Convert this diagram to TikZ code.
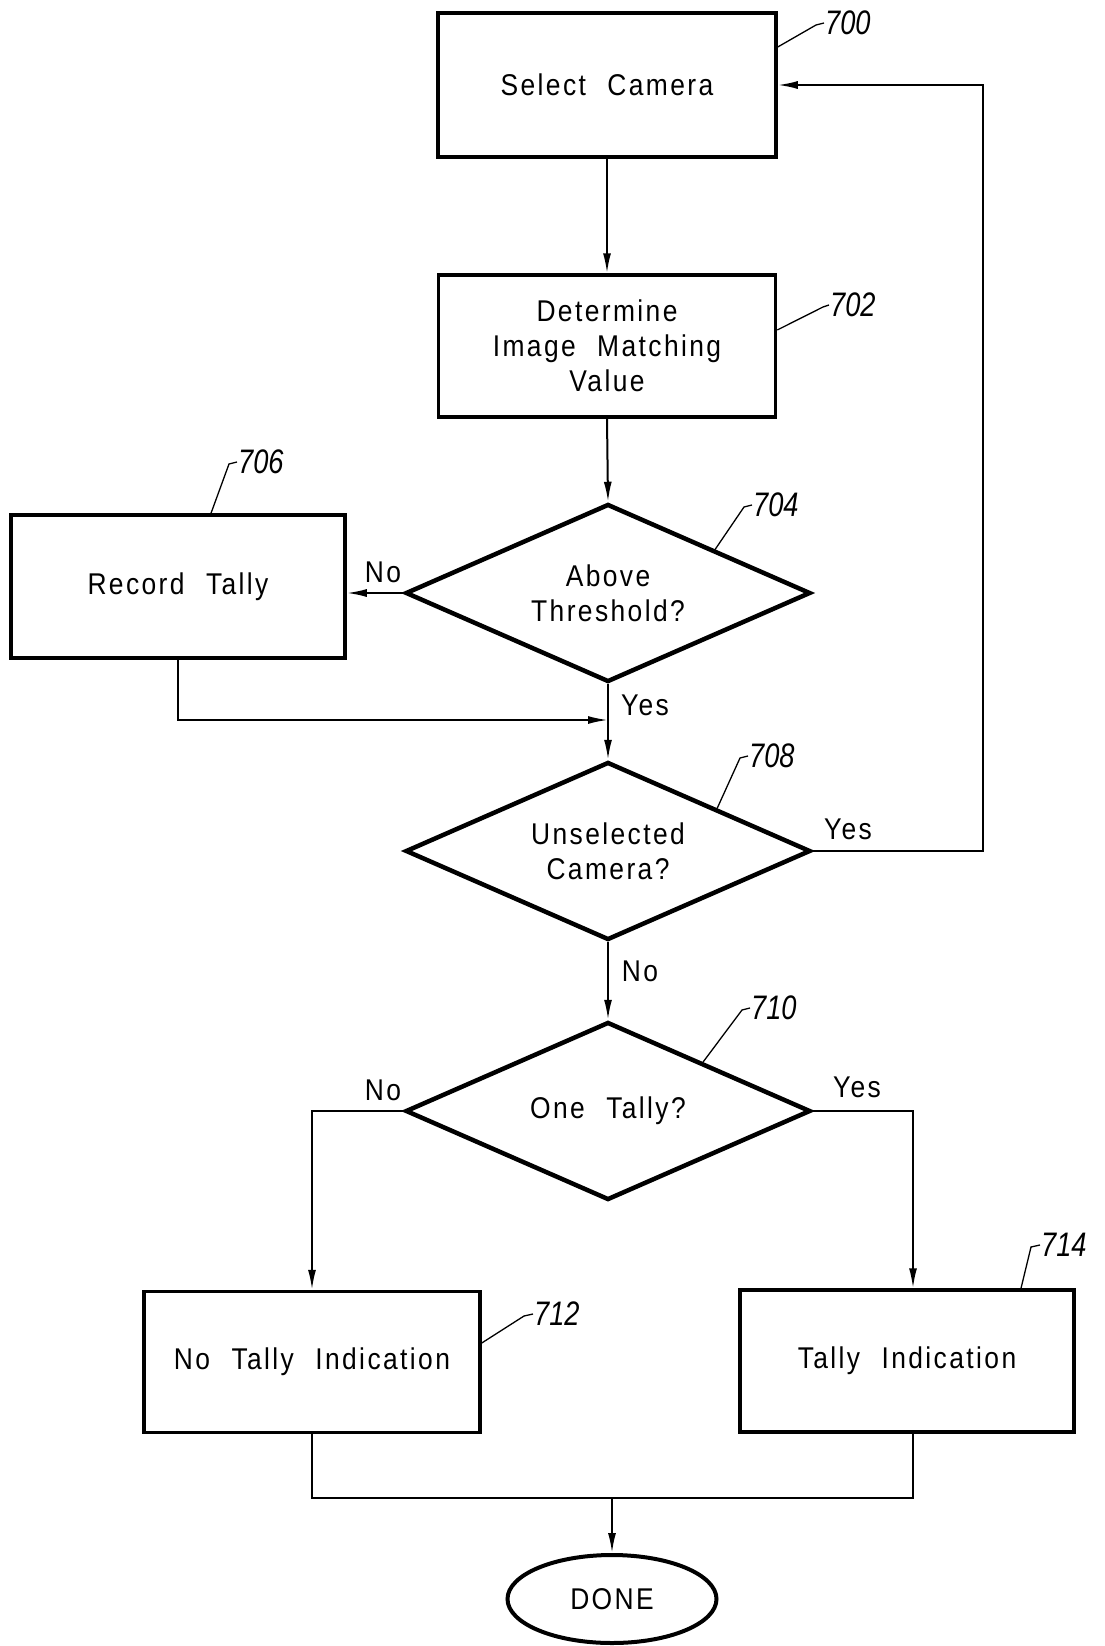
\documentclass[tikz,border=0pt]{standalone}
\usepackage{fontspec}
\setmainfont{Liberation Sans}[FakeStretch=0.88, LetterSpace=8, WordSpace=2.2]
\newfontfamily\reffont{Liberation Sans}[FakeStretch=0.8]
\usetikzlibrary{shapes.geometric, arrows.meta, calc}
\begin{document}
\begin{tikzpicture}[x=1pt,y=-1pt,
  txt/.style={font=\fontsize{30}{35}\selectfont, align=center},
  box/.style={draw, line width=3.5pt, rectangle, inner sep=0pt, txt},
  dia/.style={draw, line width=4.5pt, diamond, aspect=2.3, inner sep=0pt, minimum width=405pt, minimum height=178pt, txt},
  conn/.style={line width=2pt},
  arr/.style={conn, -{Latex[length=20pt,width=8pt]}},
  lead/.style={line width=1.3pt},
  lab/.style={font=\reffont\itshape\fontsize{34}{36}\selectfont, inner sep=1pt, anchor=west},
  yn/.style={font=\fontsize{30}{35}\selectfont, inner sep=0pt}]
\useasboundingbox (0,0) rectangle (1104,1646);

% nodes
\node[box, minimum width=338pt, minimum height=144pt] (s700) at (607,85) {Select Camera};
\node[box, minimum width=337pt, minimum height=142pt] (s702) at (607,346) {Determine\\Image Matching\\Value};
\node[dia] (d704) at (608,593) {Above\\Threshold?};
\node[box, minimum width=334pt, minimum height=143pt] (s706) at (178,586.5) {Record Tally};
\node[dia] (d708) at (608,851) {Unselected\\Camera?};
\node[dia] (d710) at (608,1111) {One Tally?};
\node[box, minimum width=336pt, minimum height=141pt] (s712) at (312,1362) {No Tally Indication};
\node[box, minimum width=334pt, minimum height=142pt] (s714) at (907,1361) {Tally Indication};
\node[draw, ellipse, line width=4pt, inner sep=0pt, minimum width=209pt, minimum height=88pt, txt] (done) at (612,1599) {DONE};

% reference labels
\node[lab] (l700) at (824,23) {700};
\node[lab] (l702) at (829,305) {702};
\node[lab] (l706) at (237,462) {706};
\node[lab] (l704) at (752,505) {704};
\node[lab] (l708) at (748,756) {708};
\node[lab] (l710) at (750,1008) {710};
\node[lab] (l712) at (533,1314) {712};
\node[lab] (l714) at (1040,1245) {714};

\draw[lead] (s700.east |- 0,47) -- (816,25) -- (l700.west);
\draw[lead] (s702.east |- 0,330) -- (823,307) -- (l702.west);
\draw[lead] (s706.north -| 211,0) -- (229,464) -- (l706.west);
\draw[lead] ($(d704.north)!0.523!(d704.east)$) -- (744,507) -- (l704.west);
\draw[lead] ($(d708.north)!0.533!(d708.east)$) -- (740,758) -- (l708.west);
\draw[lead] ($(d710.north)!0.464!(d710.east)$) -- (742,1010) -- (l710.west);
\draw[lead] (s712.east |- 0,1343) -- (524,1316) -- (l712.west);
\draw[lead] (s714.north -| 1021,0) -- (1031,1247) -- (l714.west);

% yes / no labels
\node[yn] (n704) at (383,572) {No};
\node[yn] (y704) at (645,705) {Yes};
\node[yn] (y708) at (848,829) {Yes};
\node[yn] (n708) at (640,971) {No};
\node[yn] (n710) at (383,1090) {No};
\node[yn] (y710) at (857,1087) {Yes};

% connectors
\coordinate (m1) at (608,720);
\coordinate (j2) at (612,1498);
\draw[arr] (s700.south) -- (s702.north);
\draw[arr] (s702.south) -- (d704.north);
\draw[arr] (d704.west) -- (d704.west -| s706.east);
\draw[arr] (s706.south) |- (m1);
\draw[arr] (d704.south) -- (d708.north);
\draw[arr] (d708.east) -- ++(170,0) |- (s700.east);
\draw[arr] (d708.south) -- (d710.north);
\draw[arr] (d710.west) -| (s712.north);
\draw[arr] (d710.east) -| ([xshift=6pt]s714.north);
\draw[conn] (s712.south) |- (j2);
\draw[conn] ([xshift=6pt]s714.south) |- (j2);
\draw[arr] (j2) -- (done.north);
\end{tikzpicture}
\end{document}
